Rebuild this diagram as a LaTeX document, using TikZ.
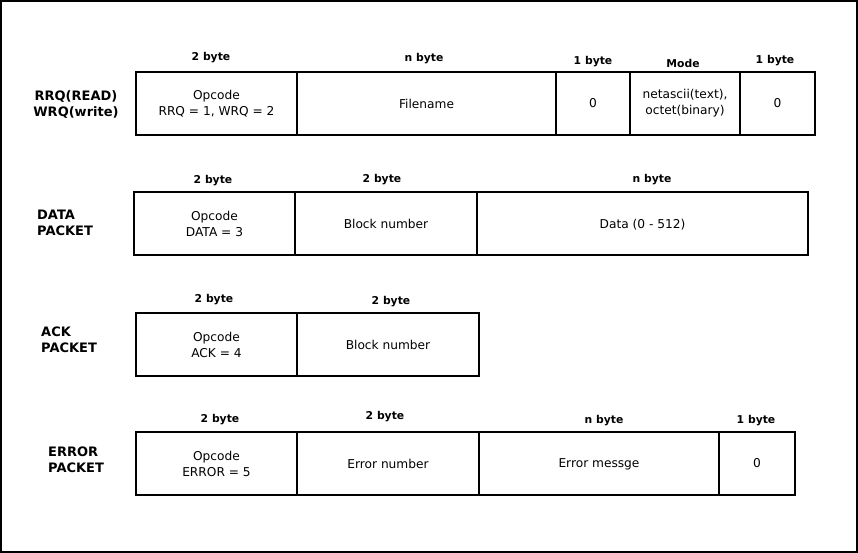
\documentclass[tikz,border=0pt]{standalone}
\usepackage{fontspec}
\setmainfont{DejaVu Sans}
\newcommand{\nodepth}[1]{\raisebox{0pt}[\height][0pt]{#1}}
\begin{document}
\begin{tikzpicture}[x=1pt,y=-1pt,
  box/.style={draw, line width=1.5pt, minimum height=63pt, inner sep=0pt, align=center, font=\fontsize{12.2}{16}\selectfont},
  sz/.style={font=\fontsize{10.8}{12}\selectfont\bfseries, inner sep=0pt},
  kind/.style={font=\fontsize{13}{16}\selectfont\bfseries, inner sep=0pt}]
\useasboundingbox (0,0) rectangle (858,553);
\draw[line width=2pt] (1,1) rectangle (857,552);
% Row 1
\node[kind, align=center] (k1) at (76,105) {RRQ(READ)\\WRQ(write)};
\node[box, minimum width=161pt] (r1a) at (216.5,103.5) {Opcode\\RRQ = 1, WRQ = 2};
\node[box, minimum width=259pt] (r1b) at (426.5,103.5) {Filename};
\node[box, minimum width=74pt] (r1c) at (593,103.5) {0};
\node[box, minimum width=110pt] (r1d) at (685,103.5) {netascii(text),\\octet(binary)};
\node[box, minimum width=75pt] (r1e) at (777.5,103.5) {0};
\node[sz] (s1a) at (211,58) {2 byte};
\node[sz] (s1b) at (424,59) {n byte};
\node[sz] (s1c) at (593,62) {1 byte};
\node[sz] (s1d) at (683,63) {Mode};
\node[sz] (s1e) at (775,61) {1 byte};
% Row 2
\node[kind, align=left, anchor=west] (k2) at (37,223) {DATA\\PACKET};
\node[box, minimum width=161pt] (r2a) at (214.5,223.5) {Opcode\\DATA = 3};
\node[box, minimum width=182pt] (r2b) at (386,223.5) {Block number};
\node[box, minimum width=331pt] (r2c) at (642.5,223.5) {\nodepth{Data (0 - 512)}};
\node[sz] (s2a) at (213,181) {2 byte};
\node[sz] (s2b) at (382,180) {2 byte};
\node[sz] (s2c) at (652,180) {n byte};
% Row 3
\node[kind, align=left, anchor=west] (k3) at (41,340) {ACK\\PACKET};
\node[box, minimum width=161pt] (r3a) at (216.5,344.5) {Opcode\\ACK = 4};
\node[box, minimum width=182pt] (r3b) at (388,344.5) {Block number};
\node[sz] (s3a) at (214,300) {2 byte};
\node[sz] (s3b) at (391,302) {2 byte};
% Row 4
\node[kind, align=left, anchor=west] (k4) at (48,460) {ERROR\\PACKET};
\node[box, minimum width=161pt] (r4a) at (216.5,463.5) {Opcode\\ERROR = 5};
\node[box, minimum width=182pt] (r4b) at (388,463.5) {Error number};
\node[box, minimum width=240pt] (r4c) at (599,463.5) {\nodepth{Error messge}};
\node[box, minimum width=76pt] (r4d) at (757,463.5) {0};
\node[sz] (s4a) at (220,420) {2 byte};
\node[sz] (s4b) at (385,417) {2 byte};
\node[sz] (s4c) at (604,421) {n byte};
\node[sz] (s4d) at (756,421) {1 byte};
\end{tikzpicture}
\end{document}
